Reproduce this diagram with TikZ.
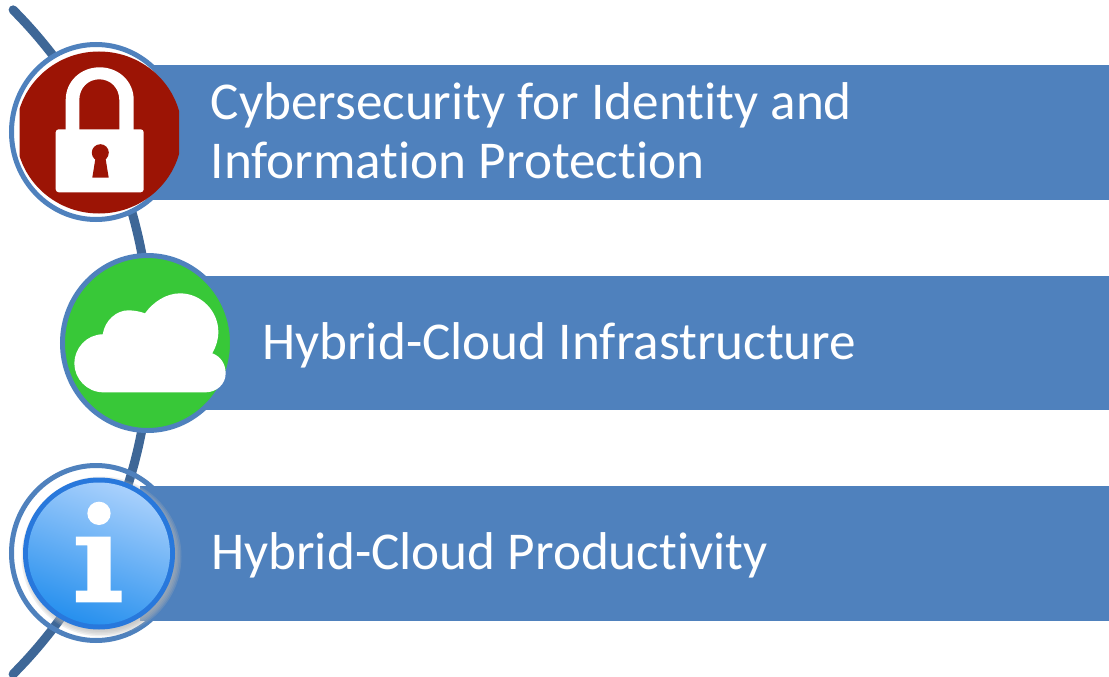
\documentclass[tikz,border=0pt]{standalone}
\usepackage{fontspec}
\setmainfont{Carlito}[Ligatures=NoCommon]
\definecolor{barblue}{HTML}{4F81BD}
\definecolor{arcblue}{HTML}{3E6797}
\definecolor{lockred}{HTML}{9C1405}
\definecolor{cloudgreen}{HTML}{38C838}
\definecolor{infohi}{HTML}{A8D0FC}
\definecolor{infolo}{HTML}{2790EE}
\definecolor{inforing}{HTML}{2878DC}
\definecolor{glow}{HTML}{B4B4B4}
\tikzset{
  bar/.style={fill=barblue,draw=none},
  ring/.style={draw=barblue,line width=5pt},
  label/.style={anchor=base west,inner sep=0pt,text=white,font=\fontsize{53.2}{53.2}\selectfont},
  glyph/.style={fill=white,draw=none},
}
\begin{document}
\begin{tikzpicture}[x=1pt,y=-1pt]
\useasboundingbox (0,0) rectangle (1109,677);
% backbone arc
\draw[arcblue,line width=9pt,line cap=round] plot[smooth,samples=40,domain=-44.85:44.85] ({-320.8+471*cos(\x)},{342+471*sin(\x)});
% bars
\fill[bar] (140,65) rectangle (1109,200);
\fill[bar] (190,276) rectangle (1109,410);
% first circle: padlock
\filldraw[ring,fill=white] (96,132) ellipse [x radius=84.5,y radius=87.5];
\begin{scope}
\clip (19.5,40) rectangle (179,225);
\fill[lockred] (99,132.5) ellipse [x radius=83,y radius=81];
\end{scope}
\fill[glyph,rounded corners=3pt] (55.7,129.3) rectangle (143.7,192.3);
\fill[glyph,even odd rule] (65.7,131) -- (65.7,100) .. controls (65.7,81) and (81,67.3) .. (99.7,67.3) .. controls (118.4,67.3) and (133.7,81) .. (133.7,100) -- (133.7,131) -- cycle
  (79.3,131) -- (79.3,100) .. controls (79.3,88) and (88,79.3) .. (99.3,79.3) .. controls (110.6,79.3) and (119.3,88) .. (119.3,100) -- (119.3,131) -- cycle;
\fill[lockred] (100.3,152.7) circle (8.5);
\fill[lockred] (96,155) -- (92.3,177.7) -- (108.7,177.7) -- (105,155) -- cycle;
% second circle: cloud
\filldraw[ring,fill=cloudgreen] (147.5,343) ellipse [x radius=85,y radius=87.5];
\begin{scope}[shift={(40,230)},scale=1/3]
\fill[glyph] (190,487) .. controls (140,487) and (103,445) .. (103,400) .. controls (103,355) and (140,313) .. (188,313) .. controls (195,270) and (230,241) .. (265,241) .. controls (285,241) and (300,245) .. (315,250) .. controls (340,215) and (380,190) .. (420,190) .. controls (485,190) and (535,245) .. (535,305) .. controls (535,330) and (528,350) .. (517,370) .. controls (540,378) and (557,400) .. (557,430) .. controls (557,462) and (530,487) .. (497,487) -- cycle;
\end{scope}
% third circle: info
\draw[ring] (96,553) ellipse [x radius=84.5,y radius=87.5];
\fill[bar] (140,486) rectangle (1109,621);
\foreach \r in {80,78.5,77,75.5,74}
  \fill[glow,opacity=0.22] (101.5,556.5) circle (\r);
\fill[inforing] (99,553.5) circle (76);
\shade[top color=infohi,bottom color=infolo,shading angle=-20] (99,553.5) circle (71);
\begin{scope}[shift={(0,440)},scale=1/3]
\fill[glyph] (297,220) circle (35);
\fill[glyph] (228,290) -- (332,290) -- (332,452) -- (365,452) -- (365,487) -- (228,487) -- (228,452) -- (262,452) -- (262,316) -- (228,316) -- cycle;
\end{scope}
% labels
\node[label] (t1a) at (210.5,120) {Cybersecurity for Identity and};
\node[label] (t1b) at (210.5,178) {Information Protection};
\node[label] (t2) at (262,359.5) {Hybrid-Cloud Infrastructure};
\node[label] (t3) at (211,569.5) {Hybrid-Cloud Productivity};
\end{tikzpicture}
\end{document}
